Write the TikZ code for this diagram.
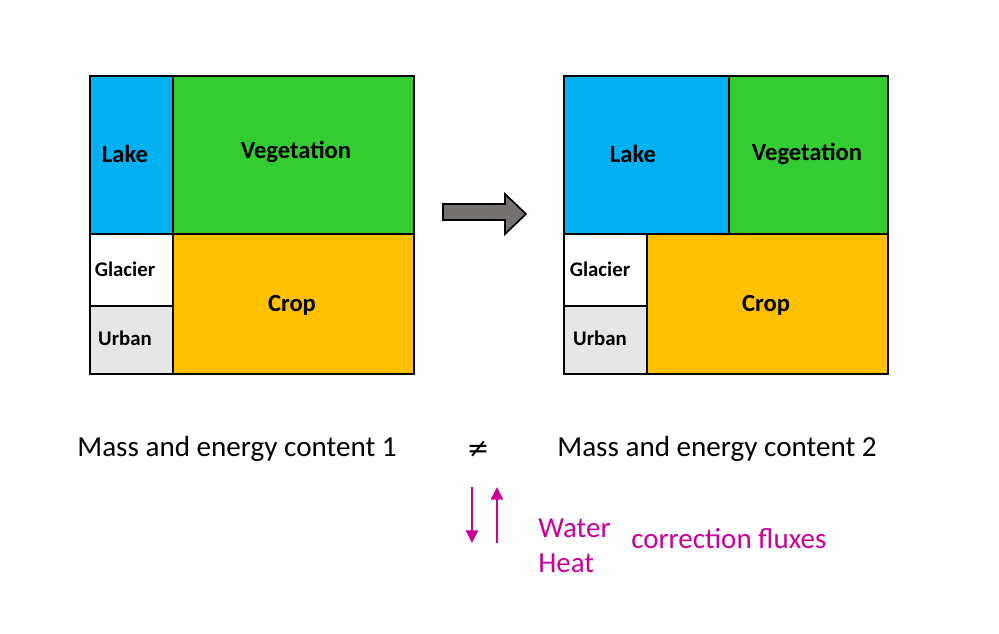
\documentclass[tikz,border=0pt]{standalone}
\usepackage{fontspec}
\setmainfont{Carlito}
\newfontfamily\symfont{DejaVu Sans}
\usetikzlibrary{arrows.meta}
\definecolor{lakeblue}{HTML}{00B0F0}
\definecolor{vegegreen}{HTML}{33CC33}
\definecolor{cropyellow}{HTML}{FFC000}
\definecolor{urbangray}{HTML}{E7E6E6}
\definecolor{shiftgray}{HTML}{767171}
\definecolor{fluxpink}{HTML}{CC0099}
\begin{document}
\begin{tikzpicture}[x=0.025cm,y=-0.025cm,
  cell/.style={draw=black,line width=2.1pt},
  tag/.style={font=\bfseries\fontsize{17.5}{21}\selectfont},
  small tag/.style={font=\bfseries\fontsize{14.8}{18}\selectfont},
  content/.style={anchor=base,inner sep=0pt,font=\fontsize{20.7}{25}\selectfont},
  flux text/.style={anchor=base west,inner sep=0pt,text=fluxpink,font=\fontsize{20.6}{25}\selectfont},
  flux/.style={draw=fluxpink,line width=2.1pt,-{Triangle[length=9pt,width=8.5pt]}}]
\useasboundingbox (0,0) rectangle (999,633);

% tiling 1
\filldraw[cell,fill=lakeblue] (90,76) rectangle (173,234);
\filldraw[cell,fill=vegegreen] (173,76) rectangle (414,234);
\filldraw[cell,fill=white] (90,234) rectangle (173,306);
\filldraw[cell,fill=urbangray] (90,306) rectangle (173,374);
\filldraw[cell,fill=cropyellow] (173,234) rectangle (414,374);
\node[tag] (lakeA) at (125,154) {Lake};
\node[tag] (vegA) at (296,152) {Vegetation};
\node[small tag] (glacierA) at (125,269) {Glacier};
\node[small tag] (urbanA) at (125,338) {Urban};
\node[tag] (cropA) at (292,305) {Crop};

% tiling 2
\filldraw[cell,fill=lakeblue] (564,76) rectangle (729,234);
\filldraw[cell,fill=vegegreen] (729,76) rectangle (888,234);
\filldraw[cell,fill=white] (564,234) rectangle (647,306);
\filldraw[cell,fill=urbangray] (564,306) rectangle (647,374);
\filldraw[cell,fill=cropyellow] (647,234) rectangle (888,374);
\node[tag] (lakeB) at (633,154) {Lake};
\node[tag] (vegB) at (807,154) {Vegetation};
\node[small tag] (glacierB) at (600,269) {Glacier};
\node[small tag] (urbanB) at (600,338) {Urban};
\node[tag] (cropB) at (766,305) {Crop};

% block arrow
\filldraw[draw=black,line width=1.2pt,fill=shiftgray,line join=miter]
  (443,204) -- (505,204) -- (505,194) -- (526,214) -- (505,234) -- (505,220) -- (443,220) -- cycle;

% contents
\node[content] (contentA) at (237,456) {Mass and energy content 1};
\node[content] (contentB) at (717,456) {Mass and energy content 2};
\node[anchor=base,inner sep=0pt,font=\symfont\fontsize{19}{23}\selectfont] (neq) at (478,457) {≠};

% correction fluxes
\coordinate (downtop) at (472,487);
\coordinate (downbot) at (472,543);
\coordinate (uptop) at (497,487);
\coordinate (upbot) at (497,543);
\draw[flux] (downtop) -- (downbot);
\draw[flux] (upbot) -- (uptop);
\node[flux text] (water) at (538,537) {Water};
\node[flux text] (heat) at (538,572) {Heat};
\node[flux text] (fluxes) at (631,548) {correction fluxes};
\end{tikzpicture}
\end{document}
